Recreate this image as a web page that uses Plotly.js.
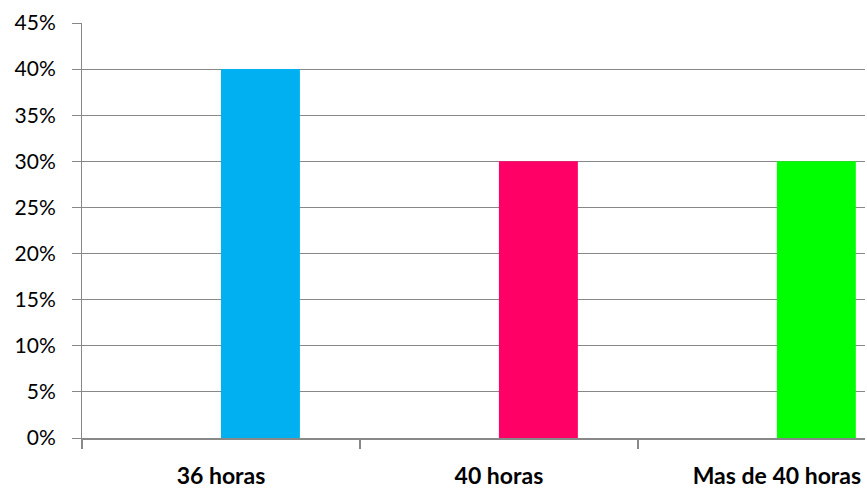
<!DOCTYPE html>
<html>
<head>
<meta charset="utf-8">
<script src="https://cdn.plot.ly/plotly-3.0.1.min.js"></script>
<style>html,body{margin:0;padding:0;background:#fff;}#chart{width:867px;height:492px;}</style>
</head>
<body>
<div id="chart"></div>
<script>
const categories = ["36 horas", "40 horas", "Mas de 40 horas"];
const values = [0.40, 0.30, 0.30];
const barColors = ["#00B0F0", "#FF0066", "#00FF00"];
const yTickVals = [0, 0.05, 0.10, 0.15, 0.20, 0.25, 0.30, 0.35, 0.40, 0.45];

const trace = {
  type: "bar",
  x: categories,
  y: values,
  marker: {color: barColors, line: {width: 0}},
  width: 0.284,
  offset: 0,
  hoverinfo: "skip"
};

const layout = {
  width: 867, height: 492,
  margin: {l: 82, r: 2, t: 23, b: 54},
  paper_bgcolor: "#fff", plot_bgcolor: "#fff",
  showlegend: false,
  font: {family: "Lato, 'Open Sans', sans-serif", color: "#000", size: 18},
  xaxis: {
    type: "category",
    range: [-0.5, 2.317],
    showgrid: false,
    showline: true, linecolor: "#888", linewidth: 2,
    ticks: "outside", tickson: "boundaries", ticklen: 9, tickwidth: 2, tickcolor: "#888",
    ticklabelstandoff: 16,
    tickfont: {family: "Lato, sans-serif", size: 23, weight: "bold", color: "#000"},
    fixedrange: true, zeroline: false
  },
  yaxis: {
    range: [0, 0.45],
    tickvals: yTickVals,
    tickformat: ".0%",
    showgrid: true, gridcolor: "#888", gridwidth: 1,
    showline: true, linecolor: "#888", linewidth: 1,
    ticks: "outside", ticklen: 9, tickwidth: 1, tickcolor: "#888",
    ticklabelstandoff: 12,
    zeroline: false,
    tickfont: {family: "Lato, sans-serif", size: 21, color: "#000"},
    fixedrange: true
  }
};

Plotly.newPlot("chart", [trace], layout, {staticPlot: true, displayModeBar: false});
</script>
</body>
</html>
